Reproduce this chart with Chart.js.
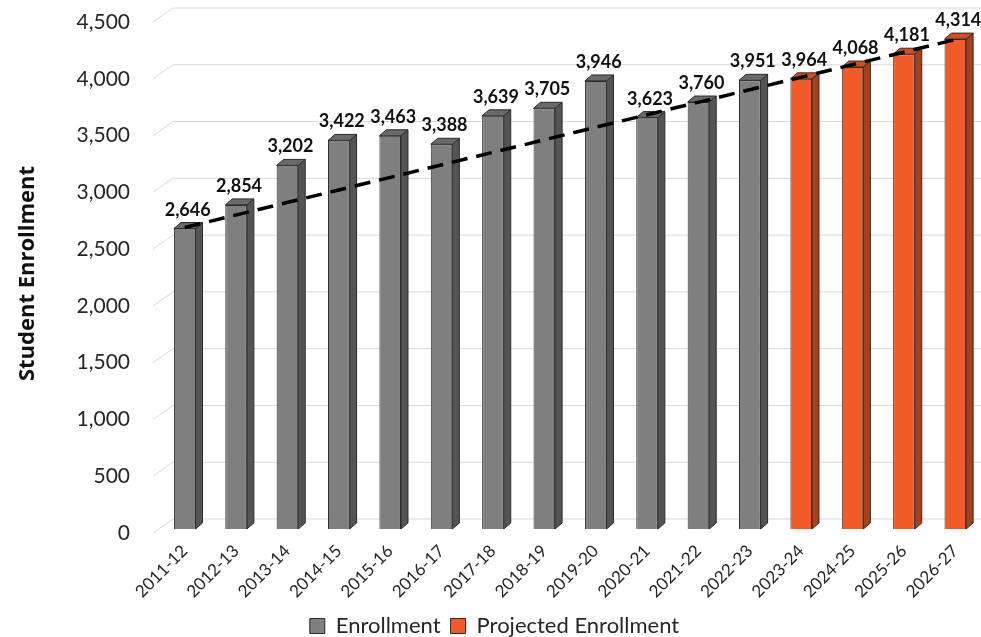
<!DOCTYPE html>
<html>
<head>
<meta charset="utf-8">
<script src="https://cdn.jsdelivr.net/npm/chart.js@4.4.1/dist/chart.umd.min.js"></script>
<style>
  html, body { margin: 0; padding: 0; background: #fff; }
  #wrap { width: 981px; height: 637px; }
</style>
</head>
<body>
<div id="wrap"><canvas id="enrollChart"></canvas></div>
<script>
const years = ['2011-12', '2012-13', '2013-14', '2014-15', '2015-16', '2016-17', '2017-18', '2018-19',
  '2019-20', '2020-21', '2021-22', '2022-23', '2023-24', '2024-25', '2025-26', '2026-27'];
const enrollment = [2646, 2854, 3202, 3422, 3463, 3388, 3639, 3705, 3946, 3623, 3760, 3951,
  null, null, null, null];
const projected = [null, null, null, null, null, null, null, null, null, null, null, null,
  3964, 4068, 4181, 4314];
// dashed trend line, read at both ends of the picture
const trendLine = [2655, null, null, null, null, null, null, null, null, null, null, null,
  null, null, null, 4310];
const yTicks = [0, 500, 1000, 1500, 2000, 2500, 3000, 3500, 4000, 4500];

const FONT = "Lato, 'Open Sans', sans-serif";

// side + top colours for the fake 3d look
const barShades = {
  0: { side: '#545454', top: '#6a6a6a' },
  1: { side: '#a9401b', top: '#d24e21' }
};

// grid drawn on the back wall, with the slanted bit at the left
const backGrid = {
  id: 'backGrid',
  beforeDatasetsDraw(chart) {
    const { ctx, chartArea, scales } = chart;
    ctx.save();
    ctx.strokeStyle = '#d9d9d9';
    ctx.lineWidth = 1;
    yTicks.forEach(v => {
      const y = scales.y.getPixelForValue(v);
      ctx.beginPath();
      ctx.moveTo(chartArea.left - 6, y + 4);
      ctx.lineTo(chartArea.left + 14, y - 10);
      ctx.lineTo(chartArea.right, y - 10);
      ctx.stroke();
    });
    ctx.restore();
  }
};

// side and top faces of each bar
const bar3d = {
  id: 'bar3d',
  afterDatasetDraw(chart, args) {
    const shade = barShades[args.index];
    if (!shade) return;
    const ctx = chart.ctx;
    const dx = 7, dy = 6;
    ctx.save();
    ctx.strokeStyle = '#2b2b2b';
    ctx.lineWidth = 1;
    args.meta.data.forEach((el, i) => {
      if (chart.data.datasets[args.index].data[i] == null) return;
      const { x, y, base, width } = el.getProps(['x', 'y', 'base', 'width'], true);
      const l = x - width / 2, r = x + width / 2;
      ctx.fillStyle = shade.side;
      ctx.beginPath();
      ctx.moveTo(r, y);
      ctx.lineTo(r + dx, y - dy);
      ctx.lineTo(r + dx, base - dy);
      ctx.lineTo(r, base);
      ctx.closePath();
      ctx.fill();
      ctx.stroke();
      ctx.fillStyle = shade.top;
      ctx.beginPath();
      ctx.moveTo(l, y);
      ctx.lineTo(l + dx, y - dy);
      ctx.lineTo(r + dx, y - dy);
      ctx.lineTo(r, y);
      ctx.closePath();
      ctx.fill();
      ctx.stroke();
    });
    ctx.restore();
  }
};

// value labels above bars
const barLabels = {
  id: 'barLabels',
  afterDatasetsDraw(chart) {
    const ctx = chart.ctx;
    ctx.save();
    ctx.font = `bold 18px ${FONT}`;
    ctx.fillStyle = '#111';
    ctx.textAlign = 'center';
    ctx.textBaseline = 'alphabetic';
    [0, 1].forEach(di => {
      const meta = chart.getDatasetMeta(di);
      meta.data.forEach((el, i) => {
        const v = chart.data.datasets[di].data[i];
        if (v == null) return;
        ctx.fillText(v.toLocaleString('en-US'), el.x + 3, el.y - 13);
      });
    });
    ctx.restore();
  }
};

new Chart(document.getElementById('enrollChart'), {
  type: 'bar',
  data: {
    labels: years,
    datasets: [
      {
        label: 'Enrollment',
        data: enrollment,
        backgroundColor: '#7f7f7f',
        borderColor: '#2b2b2b',
        borderWidth: 1,
        grouped: false,
        order: 2
      },
      {
        label: 'Projected Enrollment',
        data: projected,
        backgroundColor: '#f15a29',
        borderColor: '#2b2b2b',
        borderWidth: 1,
        grouped: false,
        order: 1
      },
      {
        type: 'line',
        label: 'Trend',
        data: trendLine,
        spanGaps: true,
        borderColor: '#000',
        borderWidth: 3.5,
        borderDash: [16, 9],
        pointRadius: 0,
        fill: false,
        order: 0
      }
    ]
  },
  options: {
    responsive: true,
    maintainAspectRatio: false,
    animation: false,
    layout: { padding: { left: 8, top: 18, right: 0, bottom: -10 } },
    datasets: { bar: { barPercentage: 0.42, categoryPercentage: 1 } },
    scales: {
      x: {
        offset: true,
        afterFit(scale) { scale.height = 76; },
        grid: { display: false },
        border: { display: false },
        ticks: {
          minRotation: 45,
          maxRotation: 45,
          padding: 4,
          color: '#262626',
          font: { family: FONT, size: 17 }
        }
      },
      y: {
        min: 0,
        max: 4500,
        afterFit(scale) { scale.width = 151; },
        afterBuildTicks(scale) { scale.ticks = yTicks.map(v => ({ value: v })); },
        grid: { display: false, drawTicks: true, tickLength: 29 },
        border: { display: false },
        ticks: {
          padding: 0,
          labelOffset: 4,
          color: '#262626',
          font: { family: FONT, size: 21 },
          callback: v => v.toLocaleString('en-US')
        },
        title: {
          display: true,
          text: 'Student Enrollment',
          color: '#111',
          padding: { top: 7, bottom: 8 },
          font: { family: "'Open Sans', Lato, sans-serif", size: 22, weight: 'bold' }
        }
      }
    },
    plugins: {
      legend: {
        position: 'bottom',
        labels: {
          filter: item => item.datasetIndex < 2,
          sort: (a, b) => a.datasetIndex - b.datasetIndex,
          boxWidth: 15,
          boxHeight: 15,
          padding: 10,
          color: '#262626',
          font: { family: FONT, size: 22 }
        }
      },
      tooltip: { enabled: false }
    }
  },
  plugins: [backGrid, bar3d, barLabels]
});
</script>
</body>
</html>
